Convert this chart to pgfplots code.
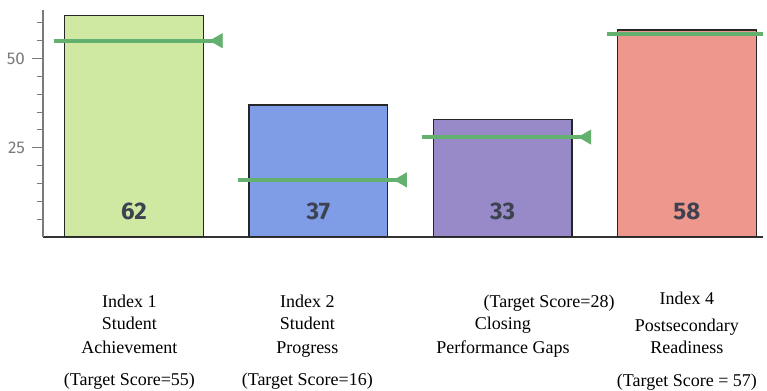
\documentclass[border=0pt]{standalone}
\usepackage{fontspec}
\setmainfont{Liberation Serif}
\newfontfamily\fira{Fira Sans}
\usepackage{pgfplots}
\pgfplotsset{compat=1.18}
\definecolor{barA}{HTML}{CFE9A2}
\definecolor{barB}{HTML}{7F9DE6}
\definecolor{barC}{HTML}{988AC8}
\definecolor{barD}{HTML}{EE978C}
\definecolor{targ}{HTML}{63B06F}
\definecolor{numcol}{HTML}{3D4250}
\definecolor{tickgray}{HTML}{7A7A7A}
\tikzset{lab/.style={font=\fontsize{9}{10}\selectfont, inner sep=0pt, anchor=base}}
\begin{document}
\begin{tikzpicture}
\path[use as bounding box] (0,0) rectangle (383.5pt,195.5pt);
\begin{axis}[
  at={(21.5pt,77pt)}, anchor=south west,
  width=360pt, height=113.5pt, scale only axis,
  xmin=-0.494, xmax=3.413, ymin=0, ymax=63.6,
  enlargelimits=false,
  axis x line=bottom, axis y line=left,
  axis line style={-},
  x axis line style={draw=black!80, line width=0.8pt},
  y axis line style={draw=tickgray, line width=0.6pt},
  xtick=\empty,
  ytick={25,50},
  minor ytick={5,10,15,20,30,35,40,45,55,60},
  tick align=outside,
  major tick length=5.5pt, minor tick length=3pt,
  every tick/.append style={tickgray, line width=0.5pt},
  every minor tick/.append style={tickgray, line width=0.5pt},
  yticklabel style={font=\fira\fontsize{8.5}{10}\selectfont, text=tickgray},
  /pgf/number format/assume math mode=true,
  clip mode=individual, clip marker paths=true,
]
\addplot[ybar, bar width=0.753, bar shift=0pt, fill=barA, draw=black!85, line width=0.6pt] coordinates {(0,62)};
\addplot[ybar, bar width=0.753, bar shift=0pt, fill=barB, draw=black!85, line width=0.6pt] coordinates {(1,37)};
\addplot[ybar, bar width=0.753, bar shift=0pt, fill=barC, draw=black!85, line width=0.6pt] coordinates {(2,33)};
\addplot[ybar, bar width=0.753, bar shift=0pt, fill=barD, draw=black!85, line width=0.6pt] coordinates {(3,58)};
% target lines
\addplot[targ, line width=2pt, mark=none] coordinates {(-0.435,55) (0.457,55)};
\addplot[targ, line width=2pt, mark=none] coordinates {(0.565,16) (1.457,16)};
\addplot[targ, line width=2pt, mark=none] coordinates {(1.565,28) (2.457,28)};
\addplot[targ, line width=2pt, mark=none] coordinates {(2.565,57) (3.457,57)};
\addplot[only marks, mark=triangle*, mark size=4pt, mark options={rotate=90, fill=targ, draw=targ}]
  coordinates {(0.457,55) (1.457,16) (2.457,28) (3.457,57)};
% bar value labels
\addplot[draw=none, mark=none, nodes near coords, point meta=explicit symbolic,
  every node near coord/.append style={anchor=center, font=\fira\bfseries\fontsize{12}{13}\selectfont, text=numcol}]
  coordinates {(0,7.1) [62] (1,7.1) [37] (2,7.1) [33] (3,7.1) [58]};
% category labels
\node[lab] at (axis cs:-0.025,-19.7) {Index 1};
\node[lab] at (axis cs:-0.025,-25.8) {Student};
\node[lab] at (axis cs:-0.025,-32.7) {Achievement};
\node[lab] at (axis cs:-0.025,-41.6) {(Target Score=55)};
\node[lab] at (axis cs:0.94,-19.7) {Index 2};
\node[lab] at (axis cs:0.94,-25.8) {Student};
\node[lab] at (axis cs:0.94,-32.7) {Progress};
\node[lab] at (axis cs:0.94,-41.6) {(Target Score=16)};
\node[lab] at (axis cs:2.252,-19.7) {(Target Score=28)};
\node[lab] at (axis cs:2.002,-25.8) {Closing};
\node[lab] at (axis cs:2.002,-32.7) {Performance Gaps};
\node[lab] at (axis cs:3.0,-18.8) {Index 4};
\node[lab] at (axis cs:3.0,-26.6) {Postsecondary};
\node[lab] at (axis cs:3.0,-32.7) {Readiness};
\node[lab] at (axis cs:3.0,-41.8) {(Target Score = 57)};
\end{axis}
\end{tikzpicture}
\end{document}
